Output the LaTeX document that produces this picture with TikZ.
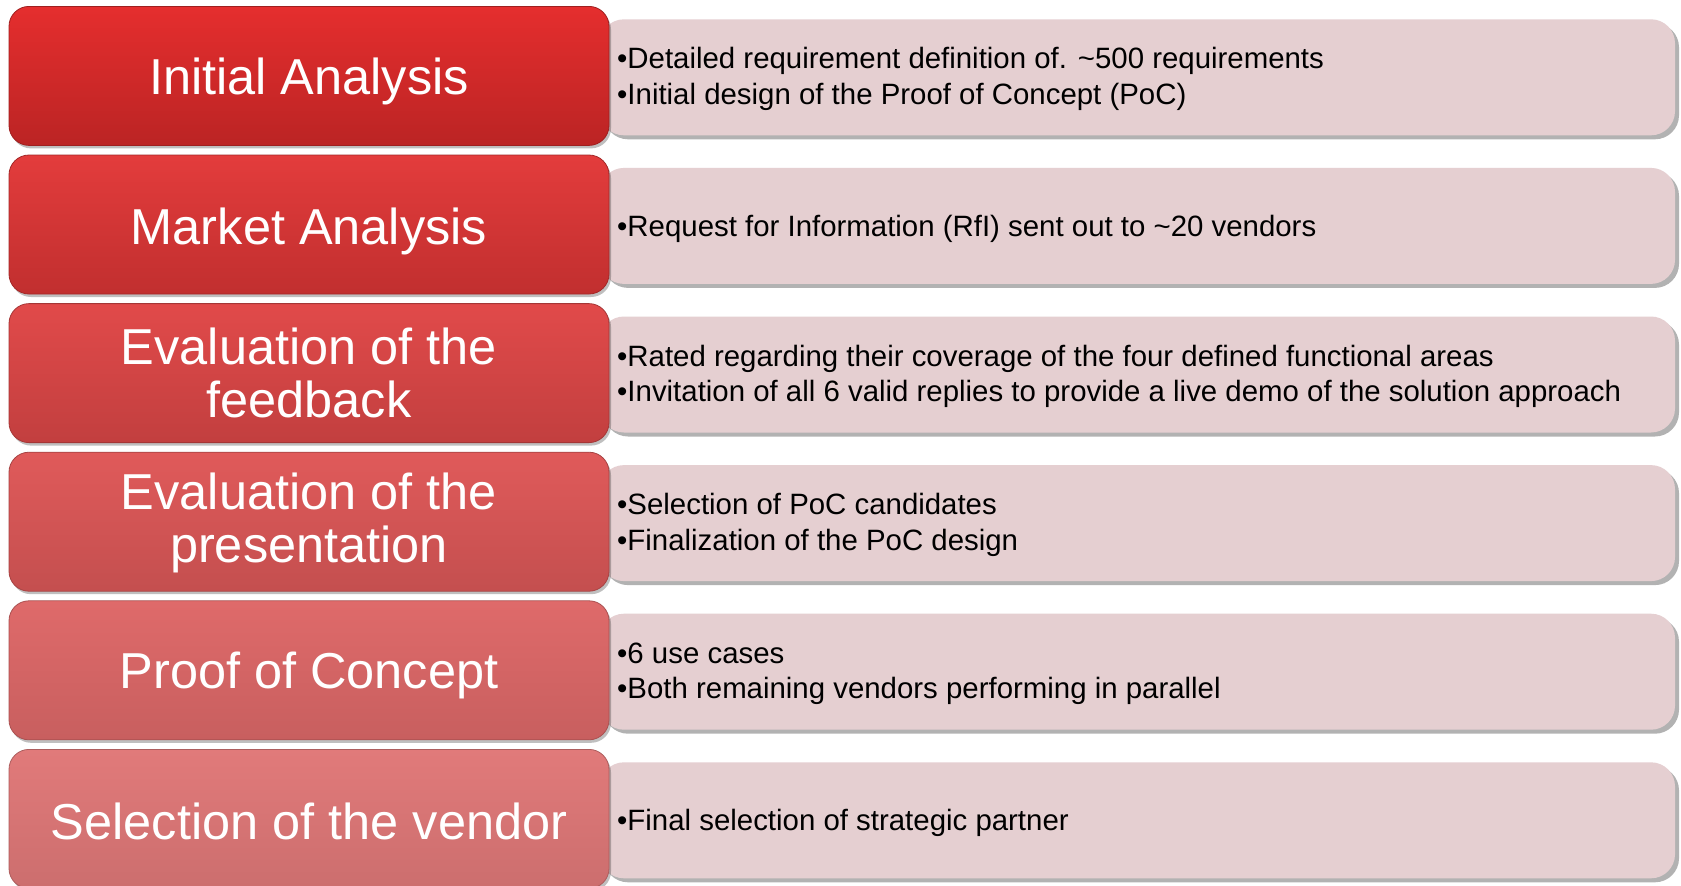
\documentclass[tikz,border=0pt]{standalone}
\usepackage{fontspec}
\setmainfont{Liberation Sans}
\usetikzlibrary{shadows}
\definecolor{detailfill}{HTML}{E5CFD1}
\definecolor{ta1}{HTML}{E52E2E}\definecolor{tb1}{HTML}{BB2424}
\definecolor{ta2}{HTML}{E33C3C}\definecolor{tb2}{HTML}{C12F2F}
\definecolor{ta3}{HTML}{E14A4A}\definecolor{tb3}{HTML}{C23F3F}
\definecolor{ta4}{HTML}{E05A5A}\definecolor{tb4}{HTML}{C44F4F}
\definecolor{ta5}{HTML}{DF6A6A}\definecolor{tb5}{HTML}{C85F5F}
\definecolor{ta6}{HTML}{E17A7A}\definecolor{tb6}{HTML}{CC6E6E}
\tikzset{
  titlebox/.style 2 args={rectangle, rounded corners=20pt, minimum width=600pt, minimum height=139pt,
    top color=#1, bottom color=#2, draw=#2!85!black, line width=0.8pt,
    drop shadow={shadow xshift=2pt, shadow yshift=-3pt, opacity=0.25, fill=black},
    text=white, align=center, font=\fontsize{50.5}{53}\selectfont, inner sep=0pt},
  titletext/.style={text=white, align=center, font=\fontsize{50.5}{53}\selectfont, inner sep=0pt},
  detailbox/.style={rectangle, rounded corners=24pt, minimum width=1075pt, minimum height=116pt,
    fill=detailfill, draw=none,
    drop shadow={shadow xshift=4pt, shadow yshift=-4pt, opacity=0.3, fill=black}},
  detailtext/.style={anchor=west, align=left, text=black, font=\fontsize{29.4}{35.4}\selectfont, inner sep=0pt}
}
\begin{document}
\begin{tikzpicture}[x=1pt,y=1pt]
\useasboundingbox[fill=white] (0,0) rectangle (1681,-886);
% detail boxes
\node[detailbox] (d1) at (1137.5,-77.3) {};
\node[detailbox] (d2) at (1137.5,-225.9) {};
\node[detailbox] (d3) at (1137.5,-374.5) {};
\node[detailbox] (d4) at (1137.5,-523.1) {};
\node[detailbox] (d5) at (1137.5,-671.7) {};
\node[detailbox] (d6) at (1137.5,-820.3) {};
% title boxes
\node[titlebox={ta1}{tb1}] (t1) at (309,-75.9) {};
\node[titlebox={ta2}{tb2}] (t2) at (309,-224.5) {};
\node[titlebox={ta3}{tb3}] (t3) at (309,-373.1) {};
\node[titlebox={ta4}{tb4}] (t4) at (309,-521.7) {};
\node[titlebox={ta5}{tb5}] (t5) at (309,-670.3) {};
\node[titlebox={ta6}{tb6}] (t6) at (309,-818.9) {};
\node[titletext] (l1) at ([yshift=-6pt]t1.center) {Initial Analysis};
\node[titletext] (l2) at ([yshift=-6.5pt]t2.center) {Market Analysis};
\node[titletext] (l3) at ([yshift=0pt]t3.center) {Evaluation of the\\feedback};
\node[titletext] (l4) at ([yshift=-1pt]t4.center) {Evaluation of the\\presentation};
\node[titletext] (l5) at ([yshift=-5.5pt]t5.center) {Proof of Concept};
\node[titletext] (l6) at ([yshift=-3pt]t6.center) {Selection of the vendor};
% detail texts
\node[detailtext] (x1) at (617,-78.7) {•Detailed requirement definition of. \textasciitilde500 requirements\\•Initial design of the Proof of Concept (PoC)};
\node[detailtext] (x2) at (617,-229.1) {•Request for Information (RfI) sent out to \textasciitilde20 vendors};
\node[detailtext] (x3) at (617,-376.2) {•Rated regarding their coverage of the four defined functional areas\\•Invitation of all 6 valid replies to provide a live demo of the solution approach};
\node[detailtext] (x4) at (617,-524.7) {•Selection of PoC candidates\\•Finalization of the PoC design};
\node[detailtext] (x5) at (617,-673.7) {•6 use cases\\•Both remaining vendors performing in parallel};
\node[detailtext] (x6) at (617,-822.7) {•Final selection of strategic partner};
\end{tikzpicture}
\end{document}
